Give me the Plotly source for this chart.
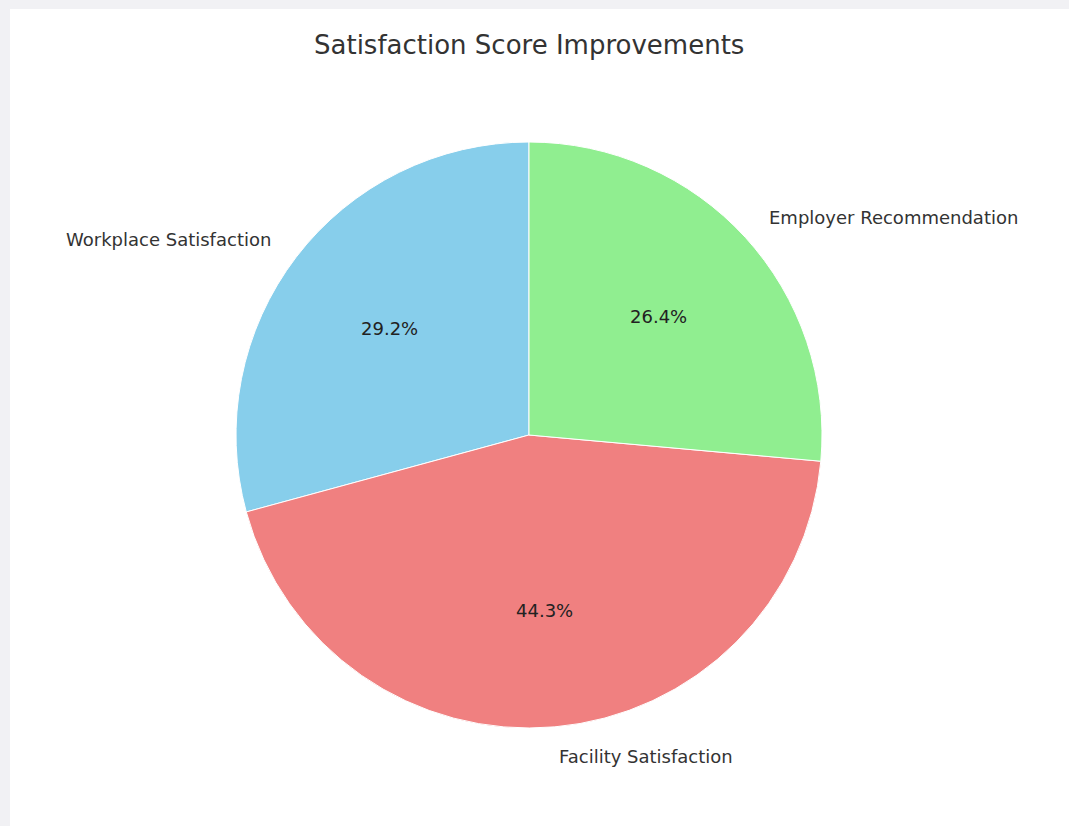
import math
import plotly.graph_objects as go

# Data
categories = ["Workplace Satisfaction", "Facility Satisfaction", "Employer Recommendation"]
shares = [29.2, 44.3, 26.4]
colors = ["#87CEEB", "#F08080", "#90EE90"]
title_text = "Satisfaction Score Improvements"

W, H = 1069, 826
FONT = "DejaVu Sans"

# Pie geometry in pixels
cx, cy, r = 529, 435, 293
label_dist = 1.1
pct_dist = 0.6

total = sum(shares)


def px_x(x):
    return x / W


def px_y(y):
    return 1 - y / H


# Plotly's counterclockwise pies end the first slice at the rotation angle,
# so shift by the first slice so that it starts at 12 o'clock instead.
first_span = shares[0] / total * 360.0

fig = go.Figure()
fig.add_trace(go.Pie(
    labels=categories,
    values=shares,
    sort=False,
    direction="counterclockwise",
    rotation=-first_span,
    marker=dict(colors=colors, line=dict(color="white", width=1)),
    textinfo="none",
    hoverinfo="label+percent",
    showlegend=False,
    domain=dict(x=[px_x(cx - r), px_x(cx + r)], y=[px_y(cy + r), px_y(cy - r)]),
))

# Slice labels outside and percentages inside, placed at each slice's mid-angle
start = 90.0
annotations = []
for name, v in zip(categories, shares):
    span = v / total * 360.0
    mid = math.radians(start + span / 2)
    start += span
    c, s = math.cos(mid), math.sin(mid)
    lx, ly = cx + label_dist * r * c, cy - label_dist * r * s
    annotations.append(dict(
        x=px_x(lx), y=px_y(ly), xref="paper", yref="paper",
        text=name, showarrow=False,
        xanchor="left" if c > 0 else "right", yanchor="middle",
        font=dict(family=FONT, size=18, color="#333333"),
    ))
    tx, ty = cx + pct_dist * r * c, cy - pct_dist * r * s
    annotations.append(dict(
        x=px_x(tx), y=px_y(ty), xref="paper", yref="paper",
        text=f"{v / total * 100:.1f}%", showarrow=False,
        xanchor="center", yanchor="middle",
        font=dict(family=FONT, size=18, color="#222222"),
    ))

annotations.append(dict(
    x=px_x(529), y=px_y(45), xref="paper", yref="paper",
    text=title_text, showarrow=False, xanchor="center", yanchor="middle",
    font=dict(family=FONT, size=26, color="#333333"),
))

fig.update_layout(
    width=W, height=H,
    margin=dict(l=0, r=0, t=0, b=0),
    paper_bgcolor="#F1F1F4",
    plot_bgcolor="white",
    annotations=annotations,
    shapes=[dict(
        type="rect", xref="paper", yref="paper", layer="below",
        x0=px_x(10), x1=1, y0=0, y1=px_y(9),
        fillcolor="white", line=dict(width=0),
    )],
)

fig.write_html("out.html")
